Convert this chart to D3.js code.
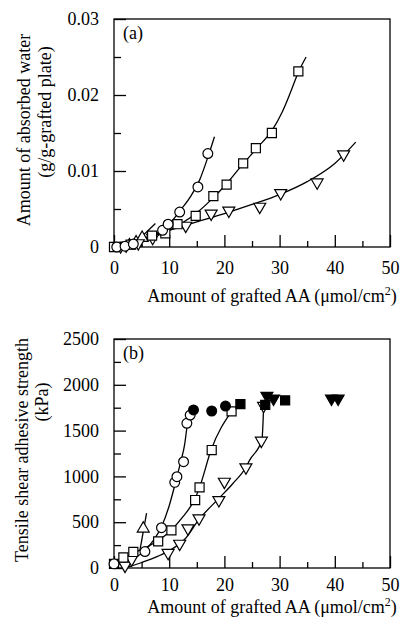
<!DOCTYPE html>
<html><head><meta charset="utf-8">
<script src="https://cdn.jsdelivr.net/npm/d3@7/dist/d3.min.js"></script>
<style>body{margin:0;background:#fff}svg{display:block}text{font-family:"Liberation Serif","Times New Roman",serif;fill:#000}</style>
</head><body><svg id="c" width="401" height="623"></svg>
<script>
// ---------- Data: panel (a) water absorption ----------
const aCircles = [[0.5,0],[2,0.0001],[3.5,0.0004],[8.8,0.0022],[9.8,0.003],[11.9,0.0046],[15.2,0.0079],[17,0.0123]];
const aSquares = [[0,0],[3,0.0003],[6.9,0.0015],[9.3,0.0018],[11.5,0.003],[14.8,0.0041],[18,0.0067],[20.4,0.0082],[23.4,0.011],[25.7,0.013],[28.6,0.015],[33.4,0.0231]];
const aTriDown = [[1.2,0.0001],[2.2,0.0002],[4.4,0.0005],[7,0.0012],[13,0.0028],[17.6,0.0044],[20.8,0.0048],[26.4,0.0053],[30.2,0.0071],[36.8,0.0085],[41.6,0.0122]];
const aTriUp = [[2.8,0.0002],[4,0.0006],[5.1,0.0012]];
const aCurveCircle = [[0,0],[4,0.0006],[8,0.0019],[10,0.003],[12,0.0048],[14,0.0068],[15.5,0.0088],[17,0.0118],[18.2,0.0145]];
const aCurveSquare = [[0,0],[5,0.0007],[10,0.0022],[15,0.0045],[18,0.0065],[20,0.008],[23,0.0106],[26,0.0131],[28.6,0.0153],[30.5,0.0178],[32,0.0204],[33.4,0.023],[34.8,0.025]];
const aCurveTri = [[0,0],[5,0.0011],[10,0.0022],[15,0.0033],[20,0.0044],[25,0.0056],[30,0.0069],[35,0.0086],[40,0.011],[43.8,0.0138]];
const aCurveTriUp = [[3.5,0.0003],[7.5,0.0031]];
const aYTicks = [0, 0.01, 0.02, 0.03];
const aYLabels = ["0", "0.01", "0.02", "0.03"];

// ---------- Data: panel (b) tensile shear adhesive strength ----------
const bCircles = [[0,45],[5.6,180],[8.6,440],[11,935],[11.4,997],[12.6,1160],[13.2,1580],[13.8,1670]];
const bCirclesFilled = [[14.4,1725],[17.7,1714],[20.2,1768]];
const bSquares = [[0,45],[1.7,115],[3.5,175],[8,290],[10.4,410],[14.7,742],[15.5,880],[17.7,1288],[21.3,1710]];
const bSquaresFilled = [[22.9,1790],[27.4,1780],[31,1830]];
const bTriDown = [[2,25],[3.2,95],[9.8,165],[11.9,265],[13.4,433],[15.4,542],[19,742],[20,942],[23.9,1099],[26.7,1390],[27.1,1770]];
const bTriDownFilled = [[27.7,1880],[28.9,1850],[39.4,1850],[40.6,1850]];
const bTriUp = [[5.3,430]];
const bCurveCircle = [[0,30],[3,90],[5.6,190],[7,290],[8.6,450],[10,680],[11,900],[12,1140],[12.8,1350],[13.3,1580]];
const bCurveSquare = [[0,40],[2,110],[4,175],[6,230],[8,300],[10.3,410],[12.5,560],[14.7,760],[15.5,880],[17.6,1290],[21.3,1710]];
const bCurveTri = [[2.5,10],[5,60],[8,130],[10,190],[12.9,320],[15.4,530],[19,760],[21.5,920],[23.9,1100],[24.6,1180],[26.8,1400],[27.1,1750]];
const bCurveTriUp = [[4.7,196],[5.9,600]];
const bYTicks = [0, 500, 1000, 1500, 2000, 2500];

const xTicks = [0, 10, 20, 30, 40, 50];

const svg = d3.select("#c");
const L = 114, R = 390;
const FS = 18;

function panel(cfg) {
  const x = d3.scaleLinear().domain([0, 50]).range([L, R]);
  const y = d3.scaleLinear().domain([0, cfg.ymax]).range([cfg.bottom, cfg.top]);
  const g = svg.append("g");
  g.append("rect").attr("x", L).attr("y", cfg.top).attr("width", R - L).attr("height", cfg.bottom - cfg.top)
    .attr("fill", "none").attr("stroke", "#000").attr("stroke-width", 1.3);
  const xa = g.append("g").attr("transform", `translate(0,${cfg.bottom})`)
    .call(d3.axisBottom(x).tickValues(xTicks).tickSizeInner(-12).tickSizeOuter(0).tickPadding(cfg.xpad).tickFormat(d3.format("d")));
  const xm = g.append("g").attr("transform", `translate(0,${cfg.bottom})`)
    .call(d3.axisBottom(x).tickValues(d3.range(5, 50, 10)).tickSizeInner(-6).tickSizeOuter(0).tickFormat(""));
  const ya = g.append("g").attr("transform", `translate(${L},0)`)
    .call(d3.axisLeft(y).tickValues(cfg.yTicks).tickSizeInner(-12).tickSizeOuter(0).tickPadding(15).tickFormat((d, i) => cfg.yLabels[i]));
  const ym = g.append("g").attr("transform", `translate(${L},0)`)
    .call(d3.axisLeft(y).tickValues(cfg.minor).tickSizeInner(-7).tickSizeOuter(0).tickFormat(""));
  [xa, xm, ya, ym].forEach(a => {
    a.select(".domain").remove();
    a.selectAll("line").attr("stroke", "#000").attr("stroke-width", 1.3);
    a.selectAll("text").attr("font-size", FS).attr("font-family", "Liberation Serif");
  });
  const line = d3.line().x(d => x(d[0])).y(d => y(d[1])).curve(d3.curveMonotoneX);
  cfg.curves.forEach(c => g.append("path").attr("d", line(c)).attr("fill", "none").attr("stroke", "#000").attr("stroke-width", 1.3));
  const sym = {
    circle: d3.symbol().type(d3.symbolCircle).size(75),
    square: d3.symbol().type(d3.symbolSquare).size(82),
    tri: d3.symbol().type(d3.symbolTriangle).size(62)
  };
  cfg.marks.forEach(m => {
    g.selectAll(null).data(m.data).join("path")
      .attr("d", sym[m.type])
      .attr("transform", d => `translate(${x(d[0])},${y(d[1])})${m.down ? " rotate(180)" : ""}`)
      .attr("fill", m.filled ? "#000" : "#fff").attr("stroke", "#000").attr("stroke-width", 1.2);
  });
  g.append("text").attr("x", 123).attr("y", cfg.top + 20).attr("font-size", FS).text(cfg.label);
  const t = g.append("text").attr("x", 272).attr("y", cfg.titleY).attr("text-anchor", "middle").attr("font-size", FS);
  t.append("tspan").text("Amount of grafted AA (\u03bcmol/cm");
  t.append("tspan").attr("dy", -7).attr("font-size", 12).text("2");
  t.append("tspan").attr("dy", 7).text(")");
  cfg.ytitle.forEach(tt => {
    g.append("text").attr("transform", `translate(${tt.x},${tt.y}) rotate(-90)`)
      .attr("text-anchor", "middle").attr("dominant-baseline", "central").attr("font-size", FS).text(tt.s);
  });
}

panel({
  top: 19, bottom: 247, ymax: 0.03, yTicks: aYTicks, yLabels: aYLabels, xpad: 14, titleY: 302,
  minor: [0.005, 0.015, 0.025], label: "(a)",
  curves: [aCurveCircle, aCurveSquare, aCurveTri, aCurveTriUp],
  marks: [
    {type: "tri", data: aTriUp}, {type: "tri", down: true, data: aTriDown},
    {type: "square", data: aSquares}, {type: "circle", data: aCircles}
  ],
  ytitle: [{x: 24, y: 130, s: "Amount of absorbed water"}, {x: 45, y: 112, s: "(g/g-grafted plate)"}]
});
panel({
  top: 339, bottom: 568, ymax: 2500, yTicks: bYTicks, yLabels: bYTicks.map(String), xpad: 10, titleY: 613,
  minor: [250, 750, 1250, 1750, 2250], label: "(b)",
  curves: [bCurveCircle, bCurveSquare, bCurveTri, bCurveTriUp],
  marks: [
    {type: "tri", data: bTriUp}, {type: "tri", down: true, data: bTriDown},
    {type: "tri", down: true, filled: true, data: bTriDownFilled},
    {type: "square", data: bSquares}, {type: "square", filled: true, data: bSquaresFilled},
    {type: "circle", data: bCircles}, {type: "circle", filled: true, data: bCirclesFilled}
  ],
  ytitle: [{x: 22, y: 450, s: "Tensile shear adhesive strength"}, {x: 42, y: 402, s: "(kPa)"}]
});
</script></body></html>
